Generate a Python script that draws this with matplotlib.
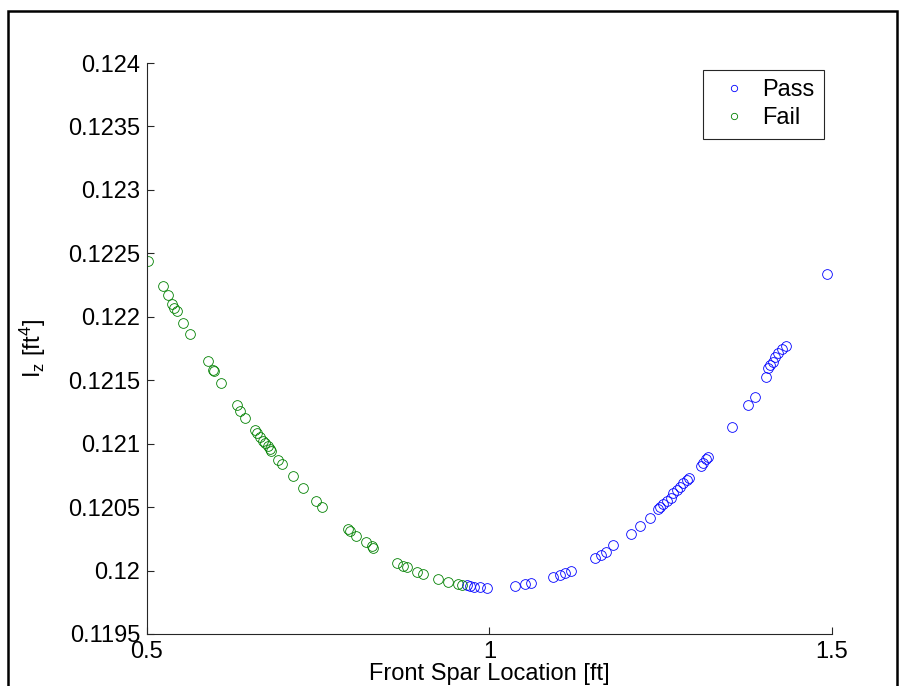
import matplotlib
matplotlib.use('Agg')
import matplotlib.pyplot as plt
from matplotlib.patches import Rectangle

plt.rcParams['font.family'] = ['Liberation Sans', 'DejaVu Sans']
plt.rcParams['mathtext.fontset'] = 'custom'
plt.rcParams['mathtext.rm'] = 'Liberation Sans'
plt.rcParams['mathtext.it'] = 'Liberation Sans'

# Front spar location [ft] and I_z [ft^4]
fail_x = [0.5019, 0.5229, 0.5302, 0.5369, 0.5399, 0.5434, 0.5530, 0.5628,
          0.5886, 0.5959, 0.5978, 0.6080, 0.6309, 0.6358, 0.6435, 0.6581,
          0.6610, 0.6650, 0.6689, 0.6723, 0.6762, 0.6796, 0.6810, 0.6917,
          0.6966, 0.7127, 0.7282, 0.7463, 0.7559, 0.7930, 0.7964, 0.8047,
          0.8197, 0.8280, 0.8304, 0.8645, 0.8733, 0.8791, 0.8946, 0.9025,
          0.9253, 0.9399, 0.9545, 0.9594]
fail_y = [0.122442, 0.122243, 0.122172, 0.122101, 0.122072, 0.122048,
          0.121953, 0.121867, 0.121652, 0.121581, 0.121573, 0.121476,
          0.121302, 0.121260, 0.121205, 0.121108, 0.121082, 0.121050,
          0.121023, 0.121003, 0.120982, 0.120958, 0.120945, 0.120871,
          0.120840, 0.120745, 0.120653, 0.120551, 0.120503, 0.120328,
          0.120312, 0.120275, 0.120227, 0.120196, 0.120180, 0.120062,
          0.120038, 0.120028, 0.119991, 0.119975, 0.119931, 0.119907,
          0.119894, 0.119889]

pass_x = [0.9676, 0.9715, 0.9778, 0.9861, 0.9959, 1.0372, 1.0518, 1.0601,
          1.0931, 1.1029, 1.1102, 1.1185, 1.1540, 1.1623, 1.1701, 1.1807,
          1.2066, 1.2197, 1.2343, 1.2464, 1.2489, 1.2528, 1.2587, 1.2645,
          1.2683, 1.2733, 1.2781, 1.2829, 1.2879, 1.2917, 1.3088, 1.3121,
          1.3161, 1.3194, 1.3536, 1.3778, 1.3876, 1.4036, 1.4070, 1.4095,
          1.4134, 1.4168, 1.4216, 1.4266, 1.4324, 1.4923]
pass_y = [0.119884, 0.119878, 0.119873, 0.119868, 0.119863, 0.119881,
          0.119892, 0.119900, 0.119952, 0.119967, 0.119983, 0.119999,
          0.120097, 0.120123, 0.120149, 0.120201, 0.120288, 0.120351,
          0.120412, 0.120483, 0.120499, 0.120525, 0.120551, 0.120569,
          0.120609, 0.120635, 0.120661, 0.120688, 0.120714, 0.120727,
          0.120824, 0.120850, 0.120877, 0.120897, 0.121134, 0.121305,
          0.121370, 0.121528, 0.121594, 0.121620, 0.121646, 0.121685,
          0.121717, 0.121744, 0.121770, 0.122335]

x_ticks = [0.5, 1, 1.5]
x_ticklabels = ['0.5', '1', '1.5']
y_ticks = [0.1195, 0.12, 0.1205, 0.121, 0.1215, 0.122, 0.1225, 0.123, 0.1235, 0.124]
y_ticklabels = ['0.1195', '0.12', '0.1205', '0.121', '0.1215', '0.122',
                '0.1225', '0.123', '0.1235', '0.124']

fig = plt.figure(figsize=(9.04, 6.86), dpi=100)
ax = fig.add_axes([147/904, 52/686, 685/904, 571/686])

ax.plot(pass_x, pass_y, 'o', mfc='none', mec=(0, 0, 1), mew=0.6, ms=7, label='Pass')
ax.plot(fail_x, fail_y, 'o', mfc='none', mec=(0, 0.5, 0), mew=0.6, ms=7, label='Fail')

ax.set_xlim(0.5, 1.5)
ax.set_ylim(0.1195, 0.124)
ax.set_xticks(x_ticks)
ax.set_xticklabels(x_ticklabels)
ax.set_yticks(y_ticks)
ax.set_yticklabels(y_ticklabels)

for s in ['top', 'right']:
    ax.spines[s].set_visible(False)
for s in ['left', 'bottom']:
    ax.spines[s].set_color('#262626')
    ax.spines[s].set_linewidth(0.8)
ax.tick_params(direction='in', length=5, width=0.8, color='#262626',
               labelsize=17, pad=5)

ax.set_xlabel('Front Spar Location [ft]', fontsize=17, labelpad=0)
ax.set_ylabel(r'I$_\mathregular{z}$ [ft$^\mathregular{4}$]', fontsize=17, labelpad=14)

leg = ax.legend(loc='upper right', bbox_to_anchor=((824-147)/685, (634-70)/571),
                borderaxespad=0, fontsize=17, markerscale=0.65, handlelength=1.8,
                handletextpad=0.3, borderpad=0.4, labelspacing=0.25,
                fancybox=False, edgecolor='#262626', framealpha=1)
leg.get_frame().set_linewidth(0.8)

# outer figure frame
fig.patches.append(Rectangle((8/904, -0.02), 889/904, 1.02 - 10.5/686,
                             transform=fig.transFigure, fill=False,
                             edgecolor='k', linewidth=1.8))

fig.savefig('out.png', dpi=100)
